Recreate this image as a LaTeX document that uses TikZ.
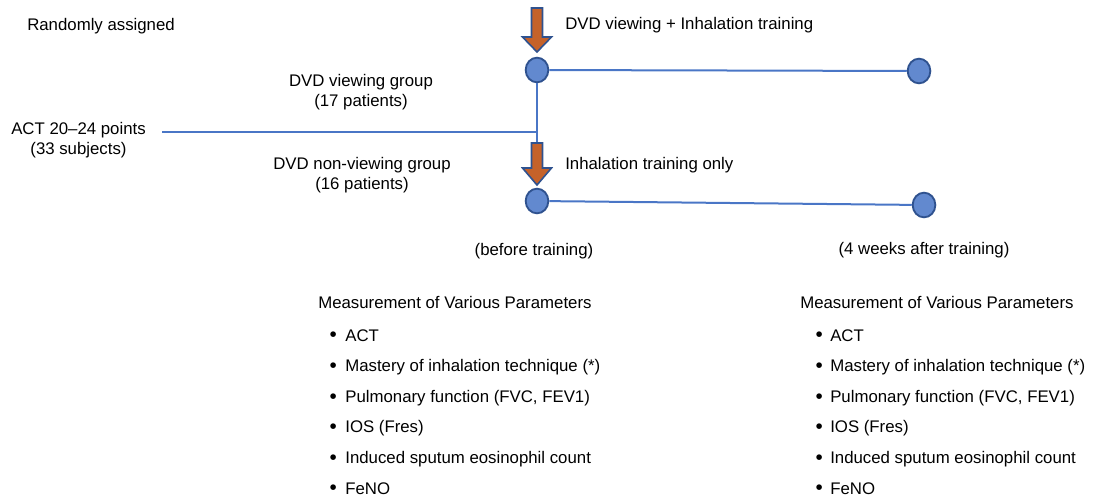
\documentclass[tikz,border=0pt]{standalone}
\usepackage{fontspec}
\setmainfont{Liberation Sans}
\usetikzlibrary{shapes.geometric}
\definecolor{lineblue}{HTML}{4A76C6}
\definecolor{dotfill}{HTML}{6289CF}
\definecolor{dotedge}{HTML}{2F528F}
\definecolor{arrowfill}{HTML}{C5622A}
\newcommand{\bigbul}{\raisebox{-0.7pt}{\fontsize{15.5}{15}\selectfont\textbullet}}
\tikzset{
  lbl/.style={inner sep=0pt, anchor=base, font=\fontsize{12.6}{15}\selectfont},
  lblw/.style={lbl, anchor=base west},
  dot/.style={ellipse, draw=dotedge, fill=dotfill, line width=1.4pt, minimum width=17pt, minimum height=18.5pt, inner sep=0pt},
  link/.style={draw=lineblue, line width=1.5pt},
  bigarrow/.style={draw=dotedge, fill=arrowfill, line width=1.2pt, line join=miter},
}
\begin{document}
\begin{tikzpicture}[x=0.75pt, y=-0.75pt]
\useasboundingbox (0,0) rectangle (1094,500);

% circles
\node[dot] (c1) at (537,70) {};
\node[dot] (c2) at (919,71) {};
\node[dot] (c3) at (537,201) {};
\node[dot] (c4) at (924,205) {};

\coordinate (start) at (162,132);
\coordinate (junc) at (537,132);
\coordinate (atop) at (537,143);

% connectors
\draw[link] (c1) -- (c2);
\draw[link] (c3) -- (c4);
\draw[link] (c1.south) -- (atop);
\draw[link] (start) -- (junc);

% arrows
\draw[bigarrow] (531.5,8) -- (542.5,8) -- (542.5,37) -- (551.5,37) -- (537,52) -- (522.5,37) -- (531.5,37) -- cycle;
\draw[bigarrow] (531.5,143) -- (542.5,143) -- (542.5,168) -- (551.5,168) -- (537,185) -- (522.5,168) -- (531.5,168) -- cycle;

% labels
\node[lblw] (rand) at (27,30) {Randomly assigned};
\node[lblw] (t1) at (565,29) {DVD viewing + Inhalation training};
\node[lblw] (t2) at (565,169) {Inhalation training only};
\node[lbl] (g1a) at (361,86) {DVD viewing group};
\node[lbl] (g1b) at (361,106) {(17 patients)};
\node[lbl] (acta) at (78.5,134) {ACT 20–24 points};
\node[lbl] (actb) at (78.5,154) {(33 subjects)};
\node[lbl] (g2a) at (362,169) {DVD non-viewing group};
\node[lbl] (g2b) at (362,189) {(16 patients)};
\node[lbl] (before) at (534,255) {(before training)};
\node[lbl] (after) at (924,254) {(4 weeks after training)};

% measurement lists
\node[lblw] (mh1) at (318,308) {Measurement of Various Parameters};
\node[lblw] (mh2) at (800,308) {Measurement of Various Parameters};
\foreach \t [count=\i from 0] in {ACT, Mastery of inhalation technique (*), {Pulmonary function (FVC, FEV1)}, IOS (Fres), Induced sputum eosinophil count, FeNO} {
  \node[lblw] (ml\i) at (329.3,341+30.6*\i) {\bigbul\hspace{6.4pt}\t};
  \node[lblw] (mr\i) at (815.3,341+30.6*\i) {\bigbul\hspace{5.6pt}\t};
}
\end{tikzpicture}
\end{document}
